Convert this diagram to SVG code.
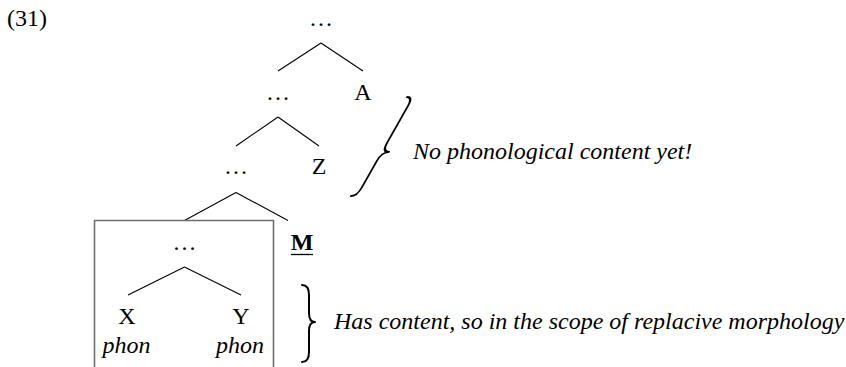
<svg xmlns="http://www.w3.org/2000/svg" width="846" height="367" viewBox="0 0 846 367">
<style>
text{font-family:"Liberation Serif","Times New Roman",serif;font-size:24px;fill:#000}
.c{text-anchor:middle}
.i{font-style:italic}
.b{font-weight:bold}
.e{stroke:#000;stroke-width:1.1;fill:none}
.box{stroke:#6e6e6e;stroke-width:1.6;fill:none}
.br{stroke:#000;stroke-width:2;fill:none;stroke-linecap:round;stroke-linejoin:round}
</style>
<rect width="846" height="367" fill="#fff"/>
<text id="exnum" x="7" y="26">(31)</text>
<g id="connectors">
<path class="e" d="M321 43 L278 71 M321 43 L363 71"/>
<path class="e" d="M278 117 L236 146 M278 117 L319 146"/>
<path class="e" d="M236 192.5 L184.5 220.5 M236 192.5 L288 220.5"/>
<path class="e" d="M184.5 267 L128 295 M184.5 267 L241 295"/>
</g>
<g id="box"><path class="box" d="M94.5 370 L94.5 220.5 L273.5 220.5 L273.5 370"/></g>
<g id="n-top"><text class="c" x="321" y="26">…</text></g>
<g id="n-dots2"><text class="c" x="278" y="100">…</text></g>
<g id="n-A"><text class="c" x="363" y="100">A</text></g>
<g id="n-dots3"><text class="c" x="236" y="174">…</text></g>
<g id="n-Z"><text class="c" x="319" y="174">Z</text></g>
<g id="n-M"><text class="c b" x="302" y="250">M</text><line x1="291" y1="254.5" x2="313" y2="254.5" stroke="#000" stroke-width="1.3"/></g>
<g id="n-dots4"><text class="c" x="184.5" y="250">…</text></g>
<g id="n-X"><text class="c" x="127" y="324">X</text><text class="c i" x="126.5" y="353">phon</text></g>
<g id="n-Y"><text class="c" x="241" y="324">Y</text><text class="c i" x="240" y="353">phon</text></g>
<g id="brace-upper">
<path class="br" transform="translate(461.9,0) skewX(-29.5)" d="M0 97 Q6 97 6 106 L6 143 Q6 152 13 152 Q6 152 6 161 L6 187 Q6 196 0 196"/>
<text class="i" x="413" y="159">No phonological content yet!</text>
</g>
<g id="brace-lower">
<path class="br" d="M302 285 Q309 285 309 295 L309 313 Q309 322 315 322 Q309 322 309 331 L309 352 Q309 362 302 362"/>
<text class="i" x="334" y="329">Has content, so in the scope of replacive morphology</text>
</g>
</svg>
